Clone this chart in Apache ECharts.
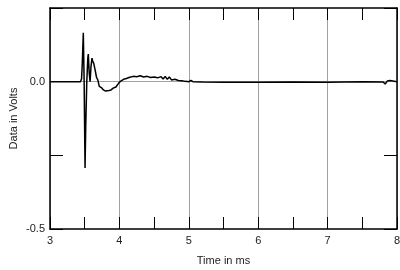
<!DOCTYPE html>
<html>
<head>
<meta charset="utf-8">
<script src="https://cdn.jsdelivr.net/npm/echarts@6/dist/echarts.min.js"></script>
<style>
html,body{margin:0;padding:0;background:#fff;}
#c{width:400px;height:270px;}
</style>
</head>
<body>
<div id="c"></div>
<script>
// Data
var timeMs = [3.0, 3.44, 3.455, 3.465, 3.48, 3.492, 3.505, 3.515, 3.53, 3.545, 3.552, 3.565, 3.578, 3.59, 3.605, 3.615, 3.63, 3.65, 3.67, 3.69, 3.71, 3.74, 3.77, 3.80, 3.82, 3.85, 3.88, 3.91, 3.95, 3.99, 4.02, 4.06, 4.10, 4.15, 4.20, 4.25, 4.30, 4.35, 4.40, 4.45, 4.50, 4.55, 4.60, 4.63, 4.66, 4.69, 4.72, 4.75, 4.80, 4.85, 4.90, 4.95, 5.0, 5.03, 5.06, 5.2, 5.5, 6.0, 6.5, 7.0, 7.5, 7.8, 7.83, 7.86, 7.9, 8.0];
var volts = [0, 0, 0.01, 0.06, 0.166, 0.0, -0.293, -0.15, 0.0, 0.08, 0.094, 0.03, 0.0, 0.05, 0.08, 0.07, 0.062, 0.04, 0.015, 0.005, -0.016, -0.02, -0.028, -0.032, -0.034, -0.03, -0.028, -0.022, -0.018, -0.005, 0.002, 0.008, 0.011, 0.015, 0.018, 0.017, 0.02, 0.016, 0.018, 0.014, 0.016, 0.013, 0.017, 0.009, 0.018, 0.008, 0.016, 0.006, 0.008, 0.004, 0.003, 0.001, 0, 0.004, 0, -0.001, -0.002, -0.002, -0.001, -0.002, 0, -0.001, -0.008, 0.002, 0.004, 0];
var xTickLabels = ['3', '4', '5', '6', '7', '8'];
var yTickLabels = {'0': '0.0', '-0.5': '-0.5'};

var pts = timeMs.map(function (t, i) { return [t, volts[i]]; });
var font = '"Liberation Sans", Arial, sans-serif';
var txt = '#222';

var chart = echarts.init(document.getElementById('c'), null, {renderer: 'canvas'});
chart.setOption({
  animation: false,
  backgroundColor: '#fff',
  grid: {left: 50, right: 3, top: 8, bottom: 41, containLabel: false, outerBoundsMode: 'none'},
  xAxis: [{
    type: 'value', min: 3, max: 8, interval: 1, position: 'bottom',
    name: 'Time in ms', nameLocation: 'middle', nameGap: 26, nameMoveOverlap: false,
    nameTextStyle: {fontFamily: font, fontSize: 11, color: txt},
    axisLine: {show: true, onZero: false, lineStyle: {color: '#000', width: 1.5}},
    axisTick: {show: true, inside: true, length: 12, lineStyle: {color: '#000', width: 1}},
    minorTick: {show: true, splitNumber: 2, length: 12, lineStyle: {color: '#000', width: 1}},
    splitLine: {show: true, lineStyle: {color: '#a0a0a0', width: 1}},
    axisLabel: {fontFamily: font, fontSize: 11, color: txt, margin: 6,
      formatter: function (v) { var s = String(Math.round(v)); return xTickLabels.indexOf(s) >= 0 && Math.abs(v - Math.round(v)) < 1e-9 ? s : ''; }}
  }, {
    type: 'value', min: 3, max: 8, interval: 1, position: 'top',
    axisLine: {show: true, onZero: false, lineStyle: {color: '#000', width: 1.5}},
    axisTick: {show: true, inside: true, length: 12, lineStyle: {color: '#000', width: 1}},
    minorTick: {show: true, splitNumber: 2, length: 12, lineStyle: {color: '#000', width: 1}},
    splitLine: {show: false},
    axisLabel: {show: false}
  }],
  yAxis: [{
    type: 'value', min: -0.5, max: 0.25, interval: 0.25, position: 'left',
    name: 'Data in Volts', nameLocation: 'middle', nameGap: 31, nameMoveOverlap: false,
    nameTextStyle: {fontFamily: font, fontSize: 11, color: txt},
    axisLine: {show: true, onZero: false, lineStyle: {color: '#000', width: 1.5}},
    axisTick: {show: true, inside: true, length: 13, lineStyle: {color: '#000', width: 1}},
    splitLine: {show: false},
    axisLabel: {fontFamily: font, fontSize: 11, color: txt, margin: 5,
      formatter: function (v) { var k = String(Math.round(v * 100) / 100); return yTickLabels[k] || ''; }}
  }, {
    type: 'value', min: -0.5, max: 0.25, interval: 0.25, position: 'right',
    axisLine: {show: true, onZero: false, lineStyle: {color: '#000', width: 1.5}},
    axisTick: {show: true, inside: true, length: 13, lineStyle: {color: '#000', width: 1}},
    splitLine: {show: false},
    axisLabel: {show: false}
  }],
  series: [{
    type: 'line', xAxisIndex: 0, yAxisIndex: 0,
    data: pts, showSymbol: false, symbol: 'none', smooth: false,
    lineStyle: {color: '#000', width: 1.5},
    z: 5,
    markLine: {
      silent: true, symbol: 'none', label: {show: false},
      lineStyle: {color: '#a0a0a0', width: 1, type: 'solid'},
      data: [{yAxis: 0}],
      z: 1
    }
  }]
});
</script>
</body>
</html>
